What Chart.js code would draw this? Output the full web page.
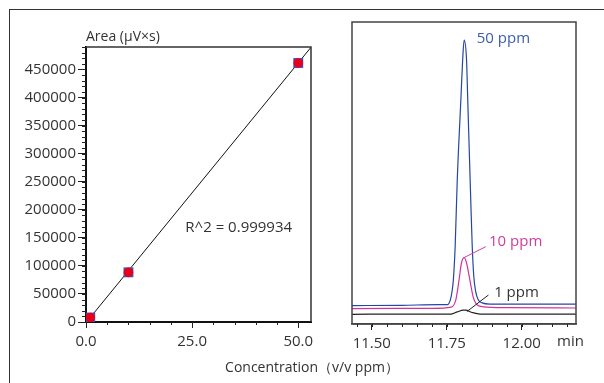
<!DOCTYPE html>
<html>
<head>
<meta charset="utf-8">
<script src="https://cdn.jsdelivr.net/npm/chart.js@4.4.1/dist/chart.umd.min.js"></script>
<style>
  body { margin: 0; background: #fff; width: 604px; height: 383px; overflow: hidden; position: relative; }
  #frame { position: absolute; left: 9px; top: 9px; width: 600px; height: 380px; border-top: 1px solid #333; border-left: 1px solid #333; }
  canvas { position: absolute; top: 0; }
</style>
</head>
<body>
<div id="frame"></div>
<canvas id="calib" width="604" height="383" style="left:0"></canvas>
<canvas id="chrom" width="264" height="383" style="left:340px"></canvas>
<script>
// calibration curve
const concentrations = [1, 10, 50];
const areas = [8000, 88500, 461500];
const fitX = [1, 53];
const fitY = [8000, 489500];
const r2Text = 'R^2 = 0.999934';
const concTicks = [0, 25, 50];
const areaTicks = [0, 50000, 100000, 150000, 200000, 250000, 300000, 350000, 400000, 450000];

// chromatograms (min, signal)
const timeTicks = [11.5, 11.75, 12.0];
const blueTimes = [11.434, 11.60, 11.72, 11.752, 11.762, 11.768, 11.772, 11.778, 11.785, 11.797, 11.803, 11.808, 11.816, 11.82, 11.83, 11.835, 11.84, 11.846, 11.855, 11.868, 11.894, 12.05, 12.181];
const blueSignal = [6.1, 6.2, 6.4, 6.4, 8, 11, 14.6, 25.6, 47.7, 74.2, 87.4, 94.0, 87.4, 74.2, 41.1, 25.6, 16, 11, 8, 7.0, 6.6, 6.6, 6.6];
const pinkTimes = [11.434, 11.70, 11.765, 11.78, 11.791, 11.799, 11.808, 11.816, 11.827, 11.838, 11.852, 11.872, 11.95, 12.181];
const pinkSignal = [5.1, 5.2, 5.6, 7.9, 14.6, 20.2, 22.0, 20.2, 14.6, 9.0, 6.3, 5.7, 5.4, 5.3];
const blackTimes = [11.434, 11.60, 11.765, 11.785, 11.805, 11.813, 11.835, 11.861, 12.0, 12.181];
const blackSignal = [3.2, 3.3, 3.3, 4.0, 4.6, 4.6, 3.8, 3.3, 3.3, 3.3];
const peakLabels = ['50 ppm', '10 ppm', '1 ppm'];

const FONT = '"Open Sans", "Noto Sans", sans-serif';
const TXT = '#333';

function pts(xs, ys) { return xs.map((x, i) => ({ x: x, y: ys[i] })); }
function fixedTicks(list) { return s => { s.ticks = list.map(v => ({ value: v })); }; }

function minorTicks(ctx, scale, from, to, step, len, vertical) {
  ctx.save();
  ctx.strokeStyle = '#222';
  ctx.lineWidth = 1;
  ctx.beginPath();
  for (let v = from; v <= to + 1e-9; v += step) {
    const p = Math.round(scale.getPixelForValue(v)) + 0.5;
    if (vertical) { ctx.moveTo(scale.right - len, p); ctx.lineTo(scale.right, p); }
    else { ctx.moveTo(p, scale.top); ctx.lineTo(p, scale.top + len); }
  }
  ctx.stroke();
  ctx.restore();
}

const calibDecor = {
  id: 'calibDecor',
  afterDraw(chart) {
    const { ctx, chartArea: a, scales } = chart;
    ctx.save();
    ctx.strokeStyle = '#333';
    ctx.lineWidth = 1.5;
    ctx.beginPath();
    ctx.moveTo(a.left, a.top); ctx.lineTo(a.right, a.top); ctx.lineTo(a.right, a.bottom);
    ctx.stroke();
    ctx.restore();
    minorTicks(ctx, scales.x, 0, 53, 5, 3, false);
    minorTicks(ctx, scales.y, 0, 490000, 10000, 4, true);
    ctx.save();
    ctx.fillStyle = TXT;
    ctx.font = '14px ' + FONT;
    ctx.textBaseline = 'alphabetic';
    ctx.fillText('Area (μV×s)', a.left, a.top - 6);
    ctx.font = '15px ' + FONT;
    ctx.fillText(r2Text, scales.x.getPixelForValue(23.4), scales.y.getPixelForValue(160000));
    ctx.font = '14px ' + FONT;
    ctx.textAlign = 'center';
    ctx.fillText('Concentration（v/v ppm）', 312, 372);
    ctx.restore();
  }
};

const chromDecor = {
  id: 'chromDecor',
  afterDraw(chart) {
    const { ctx, chartArea: a, scales } = chart;
    const X = v => scales.x.getPixelForValue(v), Y = v => scales.y.getPixelForValue(v);
    ctx.save();
    ctx.strokeStyle = '#444';
    ctx.lineWidth = 1.5;
    ctx.strokeRect(a.left, a.top, a.right - a.left, a.bottom - a.top);
    ctx.restore();
    minorTicks(ctx, scales.x, 11.45, 12.15, 0.05, 3, false);
    ctx.save();
    ctx.font = '15px ' + FONT;
    ctx.textBaseline = 'middle';
    ctx.fillStyle = '#3d5cae';
    ctx.fillText(peakLabels[0], X(11.85), Y(94.4));
    ctx.fillStyle = '#cf3d9c';
    ctx.fillText(peakLabels[1], X(11.891), Y(27.3));
    ctx.fillStyle = TXT;
    ctx.fillText(peakLabels[2], X(11.908), Y(10.2));
    ctx.lineWidth = 1;
    ctx.strokeStyle = '#cf3d9c';
    ctx.beginPath(); ctx.moveTo(X(11.808), Y(22.0)); ctx.lineTo(X(11.88), Y(25.6)); ctx.stroke();
    ctx.strokeStyle = '#222';
    ctx.beginPath(); ctx.moveTo(X(11.817), Y(4.1)); ctx.lineTo(X(11.889), Y(9.6)); ctx.stroke();
    ctx.fillStyle = TXT;
    ctx.fillText('min', a.right - 19, a.bottom + 18);
    ctx.restore();
  }
};

new Chart(document.getElementById('calib'), {
  type: 'scatter',
  data: {
    datasets: [
      { data: pts(concentrations, areas), pointStyle: 'circle', pointRadius: 4.8, backgroundColor: '#e6001e', borderWidth: 0 },
      { data: pts(concentrations, areas), pointStyle: 'rect', pointRadius: 7, backgroundColor: '#2f5bc4', borderWidth: 0 },
      { data: pts(fitX, fitY), showLine: true, pointRadius: 0, borderColor: '#111', borderWidth: 1 }
    ]
  },
  options: {
    responsive: false,
    animation: false,
    layout: { padding: { left: 0, right: 293, top: 47, bottom: 31 } },
    plugins: { legend: { display: false }, tooltip: { enabled: false } },
    scales: {
      x: {
        type: 'linear', min: 0, max: 53,
        afterFit: s => { s.height = 30; },
        afterBuildTicks: fixedTicks(concTicks),
        border: { color: '#111', width: 2 },
        grid: { drawOnChartArea: false, tickLength: 6, color: '#222' },
        ticks: { padding: 5, color: TXT, font: { family: FONT, size: 15 },
                 callback: v => v.toFixed(1) }
      },
      y: {
        min: 0, max: 490000,
        afterFit: s => { s.width = 86; },
        afterBuildTicks: fixedTicks(areaTicks),
        border: { color: '#111', width: 2 },
        grid: { drawOnChartArea: false, tickLength: 8, color: '#222' },
        ticks: { padding: 2, color: TXT, font: { family: FONT, size: 15 },
                 callback: v => String(v) }
      }
    }
  },
  plugins: [calibDecor]
});

new Chart(document.getElementById('chrom'), {
  type: 'line',
  data: {
    datasets: [
      { data: pts(blackTimes, blackSignal), borderColor: '#222', borderWidth: 1.2, pointRadius: 0, cubicInterpolationMode: 'monotone' },
      { data: pts(pinkTimes, pinkSignal), borderColor: '#d0359a', borderWidth: 1.2, pointRadius: 0, cubicInterpolationMode: 'monotone' },
      { data: pts(blueTimes, blueSignal), borderColor: '#2446a6', borderWidth: 1.2, pointRadius: 0, cubicInterpolationMode: 'monotone' }
    ]
  },
  options: {
    responsive: false,
    animation: false,
    layout: { padding: { left: 12, right: 28, top: 22, bottom: 31 } },
    plugins: { legend: { display: false }, tooltip: { enabled: false } },
    scales: {
      x: {
        type: 'linear', min: 11.434, max: 12.181,
        afterFit: s => { s.height = 28; },
        afterBuildTicks: fixedTicks(timeTicks),
        border: { color: '#444', width: 1.5 },
        grid: { drawOnChartArea: false, tickLength: 6, color: '#222' },
        ticks: { padding: 5, color: TXT, font: { family: FONT, size: 15 },
                 callback: v => v.toFixed(2) }
      },
      y: { display: false, min: 0, max: 100 }
    }
  },
  plugins: [chromDecor]
});
</script>
</body>
</html>
